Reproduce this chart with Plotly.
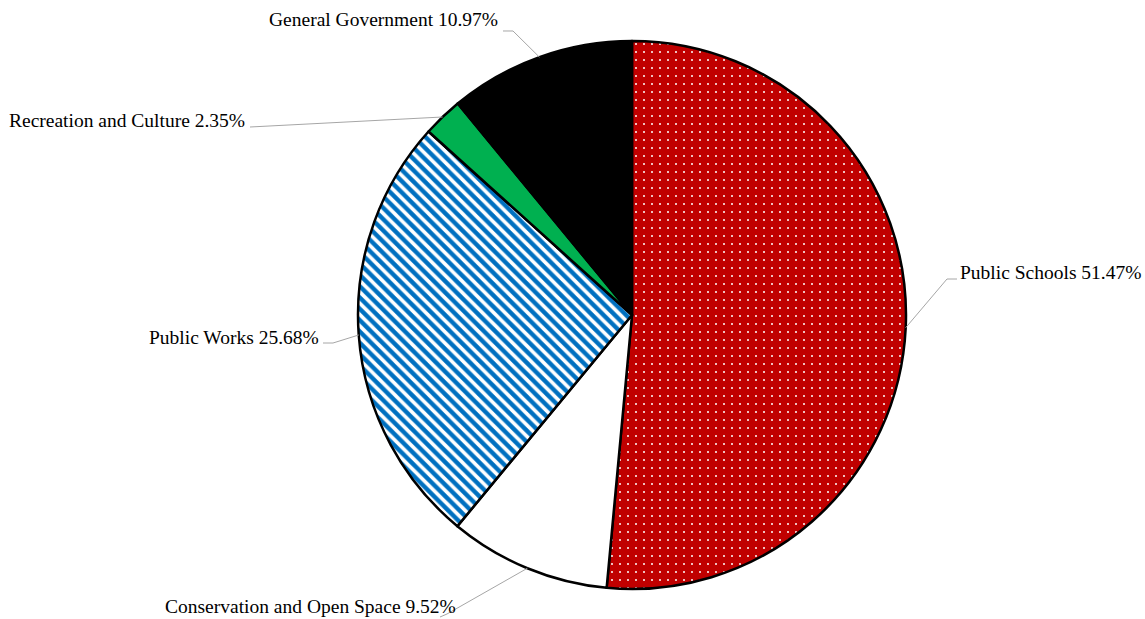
import math
import plotly.graph_objects as go

# ---- data ----
categories = ["Public Schools", "Conservation and Open Space", "Public Works",
              "Recreation and Culture", "General Government"]
values = [51.47, 9.52, 25.68, 2.35, 10.97]

# ---- style ----
slice_colors = ["#C00000", "#FFFFFF", "#0070C0", "#00B050", "#000000"]
pattern_shapes = [".", "", "\\", "", ""]
pattern_fg = ["#FFFFFF", "#FFFFFF", "#FFFFFF", "#FFFFFF", "#FFFFFF"]
pattern_size = [8, 8, 8, 8, 8]
pattern_solidity = [0.05, 0.3, 0.45, 0.3, 0.3]

W, H = 1145, 619
CX, CY, R = 632, 315, 274  # pie centre / radius in pixels

# label placement (pixels): text anchor point, xanchor, leader-line elbow points
label_layout = {
    "Public Schools": dict(tx=958, ty=272, xa="left", elbow=[(947, 279), (957, 279)]),
    "Conservation and Open Space": dict(tx=458, ty=606, xa="right", elbow=[(447, 614), (440, 617)]),
    "Public Works": dict(tx=321, ty=337, xa="right", elbow=[(333, 343), (323, 343)]),
    "Recreation and Culture": dict(tx=247, ty=120, xa="right", elbow=[(250, 127)]),
    "General Government": dict(tx=500, ty=20, xa="right", elbow=[(513, 31), (503, 31)]),
}

def px(x):
    return x / W

def py(y):
    return 1 - y / H

fig = go.Figure()
fig.add_trace(go.Pie(
    labels=categories,
    values=values,
    sort=False,
    direction="clockwise",
    rotation=0,
    textinfo="none",
    hole=0,
    showlegend=False,
    domain=dict(x=[px(CX - R), px(CX + R)], y=[py(CY + R), py(CY - R)]),
    marker=dict(
        colors=slice_colors,
        line=dict(color="#000000", width=2.5),
        pattern=dict(shape=pattern_shapes, fgcolor=pattern_fg, bgcolor=slice_colors,
                     size=pattern_size, solidity=pattern_solidity, fillmode="replace"),
    ),
))

total = sum(values)
cum = 0.0
shapes = []
annotations = []
for cat, v in zip(categories, values):
    mid = (cum + v / 2) / total * 2 * math.pi
    cum += v
    ex = CX + R * math.sin(mid)
    ey = CY - R * math.cos(mid)
    ll = label_layout[cat]
    pts = [(ex, ey)] + ll["elbow"]
    path = "M " + " L ".join(f"{px(x):.5f},{py(y):.5f}" for x, y in pts)
    shapes.append(dict(type="path", xref="paper", yref="paper", path=path,
                       line=dict(color="#A6A6A6", width=1)))
    annotations.append(dict(
        xref="paper", yref="paper", x=px(ll["tx"]), y=py(ll["ty"]),
        xanchor=ll["xa"], yanchor="middle", showarrow=False,
        text=f"{cat} {v:.2f}%",
        font=dict(family="Liberation Serif", size=19.5, color="#000000"),
    ))

fig.update_layout(
    width=W, height=H,
    margin=dict(l=0, r=0, t=0, b=0),
    paper_bgcolor="#FFFFFF",
    plot_bgcolor="#FFFFFF",
    shapes=shapes,
    annotations=annotations,
)

fig.write_html(
    "out.html",
    config={"displayModeBar": False},
    post_script="document.body.style.margin='0';document.body.style.overflow='hidden';",
)
